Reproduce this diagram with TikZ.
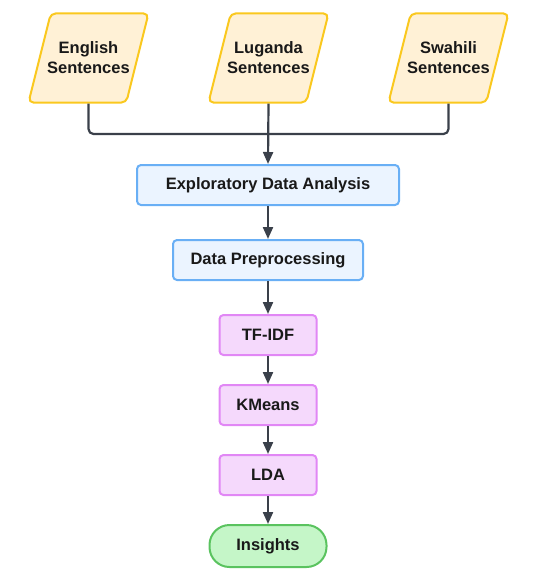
\documentclass[tikz,border=0pt]{standalone}
\usepackage{fontspec}
\setmainfont{Liberation Sans}
\usetikzlibrary{shapes, shapes.geometric, arrows.meta, positioning}
\definecolor{SourceFill}{RGB}{255, 241, 214}
\definecolor{SourceLine}{RGB}{250, 200, 30}
\definecolor{StepFill}{RGB}{235, 244, 255}
\definecolor{StepLine}{RGB}{105, 175, 245}
\definecolor{ModelFill}{RGB}{245, 217, 252}
\definecolor{ModelLine}{RGB}{225, 135, 245}
\definecolor{ResultFill}{RGB}{197, 246, 200}
\definecolor{ResultLine}{RGB}{90, 195, 95}
\definecolor{FlowLine}{RGB}{58, 64, 74}
\definecolor{LabelText}{RGB}{25, 25, 25}

\begin{document}
\begin{tikzpicture}[
        x=1pt, y=-1pt,
        lbl/.style={font=\fontsize{16.5}{20}\selectfont\bfseries, text=LabelText, align=center},
        source/.style={lbl, trapezium, trapezium left angle=76, trapezium right angle=104,
            inner xsep=-3.5pt, inner ysep=28.5pt,
            draw=SourceLine, fill=SourceFill, line width=2pt, rounded corners=5pt},
        stepbox/.style={lbl, rectangle, draw=StepLine, fill=StepFill, line width=2pt,
            rounded corners=4pt, minimum height=40pt},
        model/.style={lbl, rectangle, draw=ModelLine, fill=ModelFill, line width=2pt,
            rounded corners=4pt, minimum width=97pt, minimum height=40pt},
        result/.style={lbl, rectangle, rounded corners=20pt, draw=ResultLine, fill=ResultFill,
            line width=2pt, minimum width=117pt, minimum height=42pt},
        flow/.style={draw=FlowLine, line width=2.2pt, -{Triangle[width=10pt,length=12pt]}},
        link/.style={draw=FlowLine, line width=2.2pt, rounded corners=5pt}
    ]
    
    \useasboundingbox (0,0) rectangle (537,587);
    
    \node[source] (english) at (88.5,58) {English\\Sentences};
    \node[source] (luganda) at (268.5,58) {Luganda\\Sentences};
    \node[source] (swahili) at (448.5,58) {Swahili\\Sentences};
    
    \node[stepbox, minimum width=262pt] (eda) at (268,185) {Exploratory Data Analysis};
    \node[stepbox, minimum width=190pt] (prep) at (268,260) {Data Preprocessing};
    
    \node[model] (tfidf) at (268,335) {TF-IDF};
    \node[model] (kmeans) at (268,405) {KMeans};
    \node[model] (lda) at (268,475) {LDA};
    
    \node[result] (insights) at (268,546) {Insights};
    
    \coordinate (join) at (268,134);
    \draw[link] (english.center |- english.south) -- (english.center |- join) -- (join);
    \draw[link] (swahili.center |- swahili.south) -- (swahili.center |- join) -- (join);
    \draw[flow] (luganda.center |- luganda.south) -- (eda.north);
    
    \draw[flow] (eda) -- (prep);
    \draw[flow] (prep) -- (tfidf);
    \draw[flow] (tfidf) -- (kmeans);
    \draw[flow] (kmeans) -- (lda);
    \draw[flow] (lda) -- (insights);
    
\end{tikzpicture}
\end{document}
